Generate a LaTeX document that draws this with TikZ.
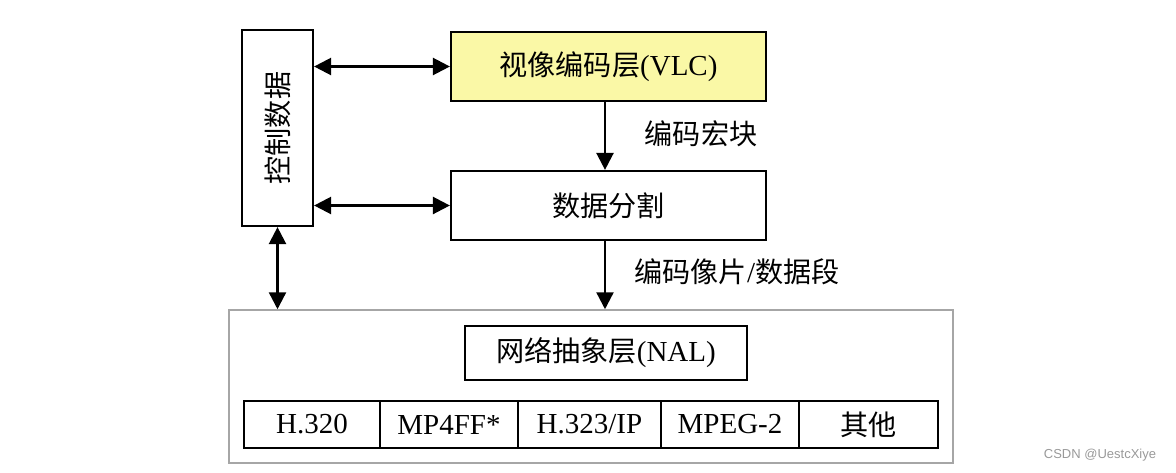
\documentclass[tikz,border=0pt]{standalone}
\usepackage{fontspec}
\setmainfont{Liberation Serif}
\newfontfamily\cjk{Noto Sans CJK SC}[Scale=0.97]
\newfontfamily\wm{Liberation Sans}
\usetikzlibrary{arrows.meta}
\definecolor{vlcyellow}{HTML}{FAF8A6}
\tikzset{
  box/.style={draw=black, line width=2.2pt, inner sep=0pt},
  lbl/.style={font=\fontsize{29}{31}\selectfont},
  arr/.style={line width=2.4pt, -{Triangle[length=17pt,width=17pt]}},
  darr/.style={line width=2.4pt, {Triangle[length=17pt,width=17pt]}-{Triangle[length=17pt,width=17pt]}},
}
\begin{document}
\begin{tikzpicture}[x=1pt,y=-1pt]
\useasboundingbox (0,0) rectangle (1176,472);
% control data
\node[box, minimum width=71pt, minimum height=196pt] (ctrl) at (277.5,128) {};
\node[lbl, rotate=90] at (ctrl.center) {\cjk 控制数据};
% VLC
\node[box, fill=vlcyellow, minimum width=315pt, minimum height=69pt] (vlc) at (608.5,66.5) {};
\node[lbl] at (vlc.center) {{\cjk 视像编码层}(VLC)};
% data partition
\node[box, minimum width=315pt, minimum height=69pt] (dp) at (608.5,205.5) {};
\node[lbl] at (dp.center) {\cjk 数据分割};
% big NAL container
\node[draw=gray!70, line width=1.5pt, minimum width=724pt, minimum height=153pt, inner sep=0pt] (big) at (591,386.5) {};
\node[box, minimum width=282pt, minimum height=54pt] (nal) at (606,353) {};
\node[lbl] at (nal.center) {{\cjk 网络抽象层}(NAL)};
% bottom row
\node[box, minimum width=136pt, minimum height=47pt] (c1) at (312,424.5) {};
\node[box, minimum width=138pt, minimum height=47pt] (c2) at (449,424.5) {};
\node[box, minimum width=143pt, minimum height=47pt] (c3) at (589.5,424.5) {};
\node[box, minimum width=138pt, minimum height=47pt] (c4) at (730,424.5) {};
\node[box, minimum width=139pt, minimum height=47pt] (c5) at (868.5,424.5) {};
\node[lbl] at (c1.center) {H.320};
\node[lbl] at (c2.center) {MP4FF*};
\node[lbl] at (c3.center) {H.323/IP};
\node[lbl] at (c4.center) {MPEG-2};
\node[lbl] at (c5.center) {\cjk 其他};
% connectors
\draw[darr] (ctrl.east |- vlc.west) -- (vlc.west);
\draw[darr] (ctrl.east |- dp.west) -- (dp.west);
\draw[darr] (ctrl.south) -- (ctrl.south |- big.north);
\coordinate (vlcb) at (605,101);
\draw[arr] (vlcb) -- (vlcb |- dp.north);
\coordinate (dpb) at (605,240);
\draw[arr] (dpb) -- (dpb |- big.north);
\node[lbl] (l1) at (701,134) {\cjk 编码宏块};
\node[lbl] (l2) at (737,272) {{\cjk 编码像片}/{\cjk 数据段}};
% watermark
\node[font=\fontsize{13}{14}\selectfont\wm, text=gray!80] (wm) at (1100,455) {CSDN @UestcXiye};
\end{tikzpicture}
\end{document}
